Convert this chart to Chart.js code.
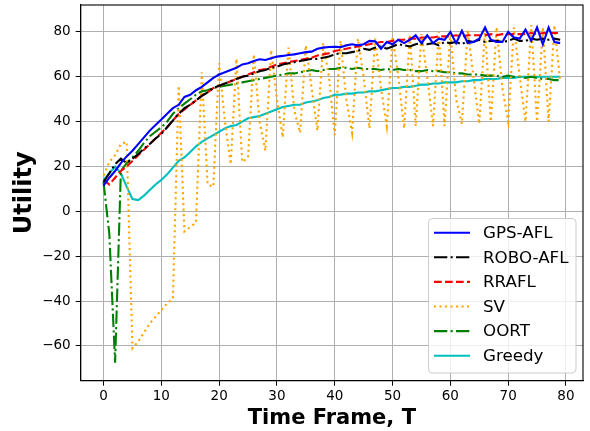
<!DOCTYPE html>
<html><head><meta charset="utf-8">
<script src="https://cdn.jsdelivr.net/npm/chart.js@4/dist/chart.umd.min.js"></script>
<style>html,body{margin:0;padding:0;background:#fff}</style>
</head><body>
<canvas id="c" width="590" height="431" style="display:block"></canvas>
<script>
const timeFrames = [0,1,2,3,4,5,6,7,8,9,10,11,12,13,14,15,16,17,18,19,20,21,22,23,24,25,26,27,28,29,30,31,32,33,34,35,36,37,38,39,40,41,42,43,44,45,46,47,48,49,50,51,52,53,54,55,56,57,58,59,60,61,62,63,64,65,66,67,68,69,70,71,72,73,74,75,76,77,78,79];
const gpsAfl = [11.5,15,18,21.5,24.5,27,30,33,36,38.5,41,43.5,46,47.5,51,52,54,55.5,57.5,59.5,61,62,63,64,65.5,66,67,67.8,67.5,68.3,69,69.3,69.7,70,70.5,71,71.2,72.5,73,73.3,73.4,73.2,74,74.5,74,74.5,76,75.8,72.5,75.5,74.5,76.5,75,76.5,78.5,75,78.5,75,77,76.5,80,75,80.5,75,75.5,77,82,76.5,75.5,75.5,80,77.5,77,81,76,82,74.5,82,75.5,75];
const roboAfl = [13,17,21,23.5,21.5,23.5,25.5,28,30,32.5,34.5,37.5,40.5,43.5,46,47.5,49.5,51.5,53,55,56,57,58,59,60,60.5,61.5,62.5,63,64,64.5,65.5,66,66.5,67,67.5,68,68,68.5,69,70,70.5,70.5,71,71.5,72.5,72,73,73.5,72.5,73.5,74.5,74,73.5,74.5,75,74.5,75,74,75.5,75,75.5,74.5,76,75.5,76.5,75.5,76,76,75.5,76,77,76,76,77,76.5,77,76.5,77,76.5];
const rrafl = [14,12,15,18,20,22.5,25,27.5,30,32.5,35,37.5,40.5,43.5,45.5,47.5,49.5,51.5,53,55,56,57,58,59,60,61,62,63,63.5,64.5,65.5,66,66.5,67,67.5,68,68.5,69.5,70,70.5,71.5,72,72.5,73,73.5,74,74.5,75,75.5,75.5,76,76.5,76.5,77,77,77.5,77.5,77.5,78,78,78,78.5,78,78.5,78.5,78.5,78.5,79,78.5,79,79,79,79,79,79.5,79,79.5,79.5,79.5,79.5];
const sv = [16,22,25,30,31,-61,-58,-54,-50,-47,-44,-41,-39,56,-9,-7,-5,62,12,11,66,40,21,68,22,24,70,40,27,72,50,33,73,45,35,74,55,36,75,60,34,76,50,35,77,60,37,77,55,38,78,60,37,79,38,79,60,38,80,38,80,50,39,81,60,39,81,40,82,55,40,82,60,40,83,40,82,40,83,58];
const oort = [13,-10,-67.5,18,21.5,24,27,30.5,33.5,35.5,37.5,40,43.5,46,48,50,52,53.5,54,55,55.5,56,56.5,57,57.5,58,58.5,59,59.5,60,60.5,61,61.5,61.5,62,62.5,63,62.5,63,63.5,63.5,64,64,63.5,64,63.5,63.5,63.5,63,63.5,63,63.5,63,63,62.5,62.5,63,62.5,62.5,62,62,61.5,61.5,61,61,61,60.5,60.5,60.5,60,60.5,60,60,59.5,60,59.5,59,59,58.5,58.5];
const greedy = [14,17,20,17,11,5.5,5,7,9.5,12,14,16.5,19.5,22.5,24,26.5,29,31,32.5,34,35.5,37,38,38.5,40,41.5,42,42.5,43.5,44.5,45.5,46.5,47,47.5,47.5,48.5,49,49.5,50.5,51,52,52,52.5,52.5,53,53,53.5,53.5,54,54.5,55,55,55.5,55.5,56,56.5,56.5,57,57,57.5,57.5,57.5,58,58,58.5,58.5,59,59,59,59.5,59.5,59.5,60,60,60,60,60,60,60,60];
const xTicks = [0,10,20,30,40,50,60,70,80];
const yTicks = [-60,-40,-20,0,20,40,60,80];

const FONT = "'DejaVu Sans', sans-serif";
function pts(arr){ return arr.map((v,i)=>({x:timeFrames[i], y:v})); }

const seriesDefs = [
  {label:'GPS-AFL', data:gpsAfl, color:'#0000ff', dash:[]},
  {label:'ROBO-AFL', data:roboAfl, color:'#000000', dash:[13.3,3.3,2.1,3.3]},
  {label:'RRAFL', data:rrafl, color:'#ff0000', dash:[7.7,3.3]},
  {label:'SV', data:sv, color:'#ffa500', dash:[2.1,3.4]},
  {label:'OORT', data:oort, color:'#008000', dash:[13.3,3.3,2.1,3.3]},
  {label:'Greedy', data:greedy, color:'#00bfbf', dash:[]}
];

const frame = {
  id:'frame',
  afterDatasetsDraw(chart){
    const {ctx, chartArea:a} = chart;
    ctx.save(); ctx.strokeStyle='#000'; ctx.lineWidth=1.1; ctx.setLineDash([]);
    ctx.strokeRect(a.left, a.top, a.right-a.left, a.bottom-a.top);
    ctx.restore();
  }
};
const legendBox = {
  id:'legendBox',
  afterDraw(chart){
    const ctx = chart.ctx;
    ctx.save();
    const x0=428.5, y0=218.5, w=147.5, h=154.5, r=4;
    ctx.beginPath();
    ctx.moveTo(x0+r,y0); ctx.lineTo(x0+w-r,y0); ctx.arcTo(x0+w,y0,x0+w,y0+r,r);
    ctx.lineTo(x0+w,y0+h-r); ctx.arcTo(x0+w,y0+h,x0+w-r,y0+h,r);
    ctx.lineTo(x0+r,y0+h); ctx.arcTo(x0,y0+h,x0,y0+h-r,r);
    ctx.lineTo(x0,y0+r); ctx.arcTo(x0,y0,x0+r,y0,r); ctx.closePath();
    ctx.fillStyle='rgba(255,255,255,0.8)'; ctx.fill();
    ctx.strokeStyle='#cccccc'; ctx.lineWidth=1; ctx.stroke();
    chart.data.datasets.forEach((ds,i)=>{
      const y = 232.7 + i*24.6;
      ctx.beginPath(); ctx.strokeStyle=ds.borderColor; ctx.lineWidth=ds.borderWidth;
      ctx.setLineDash(ds.borderDash||[]); ctx.moveTo(434,y); ctx.lineTo(470,y); ctx.stroke();
      ctx.setLineDash([]);
      ctx.fillStyle='#000'; ctx.font="16.7px "+FONT; ctx.textBaseline='middle'; ctx.textAlign='left';
      ctx.fillText(ds.label, 483, y+1);
    });
    ctx.restore();
  }
};

new Chart(document.getElementById('c'), {
  type:'line',
  data:{ datasets: seriesDefs.map(s=>({
    label:s.label, data:pts(s.data), borderColor:s.color, backgroundColor:s.color,
    borderWidth:2.1, borderDash:s.dash, pointRadius:0, tension:0, fill:false
  })) },
  options:{
    responsive:false, animation:false, devicePixelRatio:1,
    layout:{padding:{left:0, top:5, right:7, bottom:0}},
    plugins:{legend:{display:false}, tooltip:{enabled:false}},
    scales:{
      x:{ type:'linear', min:-3.95, max:82.95,
        afterBuildTicks:s=>{ s.ticks = xTicks.map(v=>({value:v})); },
        afterFit:s=>{ s.height=50.3; s.paddingLeft=0; s.paddingRight=0; },
        grid:{color:'#b0b0b0', lineWidth:1, tickColor:'#000', tickLength:5, drawTicks:true},
        border:{color:'#000', width:1.1},
        ticks:{color:'#000', font:{family:FONT, size:13.5}, maxRotation:0, autoSkip:false, padding:3},
        title:{display:true, text:'Time Frame, T', color:'#000', font:{family:FONT, size:21, weight:'bold'}, padding:{top:0,bottom:0}}
      },
      y:{ type:'linear', min:-75.5, max:92,
        afterBuildTicks:s=>{ s.ticks = yTicks.map(v=>({value:v})); },
        afterFit:s=>{ s.width=80.7; s.paddingTop=0; s.paddingBottom=0; },
        grid:{color:'#b0b0b0', lineWidth:1, tickColor:'#000', tickLength:5, drawTicks:true},
        border:{color:'#000', width:1.1},
        ticks:{color:'#000', font:{family:FONT, size:13.5}, padding:5,
          callback:v=> (v<0 ? '\u2212'+Math.abs(v) : String(v))},
        title:{display:true, text:'Utility', color:'#000', font:{family:FONT, size:24, weight:'bold'}, padding:{top:10,bottom:0}}
      }
    }
  },
  plugins:[frame, legendBox]
});
</script>
</body></html>
